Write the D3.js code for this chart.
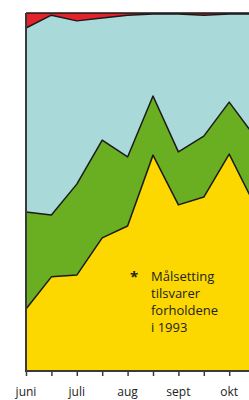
<!DOCTYPE html>
<html><head><meta charset="utf-8">
<script src="https://cdn.jsdelivr.net/npm/d3@7"></script>
<style>body{margin:0;background:#fff}svg{display:block}</style>
</head><body>
<svg id="c" width="249" height="400"></svg>
<script>
const periods = [0,1,2,3,4,5,6,7,8,9];
const monthLabels = [{i:0,t:"juni"},{i:2,t:"juli"},{i:4,t:"aug"},{i:6,t:"sept"},{i:8,t:"okt"}];
const yellow = [17.3, 26.3, 26.8, 37.2, 40.5, 60.3, 46.4, 48.6, 60.6, 46.4];
const green  = [27.1, 17.3, 25.4, 27.3, 19.3, 16.5, 14.8, 17.0, 14.5, 19.2];
const teal   = [51.4, 55.8, 45.6, 34.1, 39.6, 22.9, 38.5, 33.8, 24.6, 34.1];
const red    = [4.2, 0.6, 2.2, 1.4, 0.6, 0.3, 0.3, 0.6, 0.3, 0.3];
const seriesKeys = ["yellow","green","teal","red"];
const colors = {yellow:"#fdd800", green:"#6aae22", teal:"#aad9da", red:"#e3222b"};
const noteLines = ["Målsetting","tilsvarer","forholdene","i 1993"];

const rows = periods.map((p,i)=>({p, yellow:yellow[i], green:green[i], teal:teal[i], red:red[i]}));
const stack = d3.stack().keys(seriesKeys)(rows);

const svg = d3.select("#c");
const x = d3.scaleLinear().domain([0,1]).range([26,51.4]);
const y = d3.scaleLinear().domain([0,100]).range([371,13]);

const area = d3.area().x(d=>x(d.data.p)).y0(d=>y(d[0])).y1(d=>y(d[1]));
const line = d3.line().x(d=>x(d.data.p)).y(d=>y(d[1]));

svg.append("g").selectAll("path").data(stack).join("path")
  .attr("d", area).attr("fill", d=>colors[d.key]);
svg.append("g").selectAll("path").data(stack).join("path")
  .attr("d", line).attr("fill","none").attr("stroke","#1a1a1a").attr("stroke-width",1.5)
  .attr("stroke-linejoin","round");

// axes
const xAxis = d3.axisBottom(x).tickValues(periods).tickSize(5).tickFormat("");
const gx = svg.append("g").attr("transform","translate(0,371)").call(xAxis);
gx.select(".domain").attr("stroke","#3a3a3a").attr("stroke-width",2).attr("d","M26,0H249");
gx.selectAll(".tick line").attr("stroke","#3a3a3a").attr("stroke-width",1.5);

svg.append("line").attr("x1",x(0)).attr("x2",x(0)).attr("y1",y(100)).attr("y2",y(0)+1)
  .attr("stroke","#3a3a3a").attr("stroke-width",2);

svg.append("g").selectAll("text").data(monthLabels).join("text")
  .attr("x", d=>x(d.i)).attr("y", 396).attr("text-anchor","middle")
  .attr("font-family","Open Sans, sans-serif").attr("font-size",12).attr("fill","#222")
  .text(d=>d.t);

// note
svg.append("text").attr("x",130).attr("y",282).attr("font-family","Open Sans, sans-serif")
  .attr("font-size",15).attr("font-weight","bold").attr("fill","#222").text("*");
svg.append("g").selectAll("text").data(noteLines).join("text")
  .attr("x",151).attr("y",(d,i)=>281+i*17)
  .attr("font-family","Open Sans, sans-serif").attr("font-size",13).attr("fill","#222")
  .text(d=>d);
</script>
</body></html>
